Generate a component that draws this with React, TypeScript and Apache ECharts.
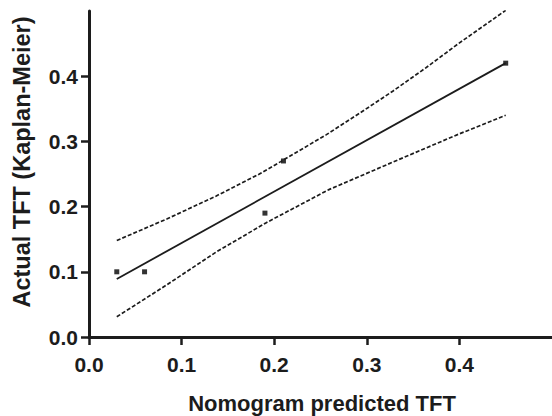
import React, { useEffect, useRef } from "react";
import * as echarts from "echarts";

// Observed points: nomogram-predicted vs. Kaplan-Meier actual TFT
const observed: [number, number][] = [
  [0.03, 0.1],
  [0.06, 0.1],
  [0.19, 0.19],
  [0.21, 0.27],
  [0.45, 0.42],
];

// Fitted regression line
const fitLine: [number, number][] = [
  [0.03, 0.089],
  [0.45, 0.42],
];

// 95% confidence bands
const upperBand: [number, number][] = [
  [0.03, 0.148],
  [0.084, 0.181],
  [0.137, 0.216],
  [0.184, 0.25],
  [0.207, 0.269],
  [0.256, 0.31],
  [0.292, 0.343],
  [0.328, 0.377],
  [0.363, 0.412],
  [0.399, 0.45],
  [0.45, 0.501],
];
const lowerBand: [number, number][] = [
  [0.03, 0.031],
  [0.084, 0.08],
  [0.137, 0.13],
  [0.191, 0.175],
  [0.259, 0.226],
  [0.331, 0.27],
  [0.399, 0.311],
  [0.45, 0.34],
];

const tickValues = [0, 0.1, 0.2, 0.3, 0.4];
const xTitle = "Nomogram predicted TFT";
const yTitle = "Actual TFT (Kaplan-Meier)";

const INK = "#1c1c1c";
const FONT = "'Liberation Sans', Arial, Helvetica, sans-serif";

export default function App() {
  const ref = useRef<HTMLDivElement>(null);

  useEffect(() => {
    if (!ref.current) return;
    const chart = echarts.init(ref.current, undefined, { renderer: "svg" });

    const axisCommon = {
      type: "value" as const,
      min: 0,
      max: 0.5,
      interval: 0.1,
      splitLine: { show: false },
      axisLine: { show: true, lineStyle: { color: INK, width: 3 } },
      axisTick: {
        show: true,
        length: 8,
        customValues: tickValues,
        lineStyle: { color: INK, width: 2.5 },
      },
      axisLabel: {
        customValues: tickValues,
        color: INK,
        fontFamily: FONT,
        fontWeight: "bold" as const,
        fontSize: 21,
        formatter: (v: number) => v.toFixed(1),
      },
    };

    const bandStyle = { color: INK, width: 1.7, type: [4, 2] };

    chart.setOption({
      animation: false,
      backgroundColor: "#ffffff",
      grid: { left: 89, right: -1, top: 11, bottom: 79, containLabel: false },
      xAxis: {
        ...axisCommon,
        axisLabel: { ...axisCommon.axisLabel, margin: 17 },
      },
      yAxis: {
        ...axisCommon,
        axisLabel: { ...axisCommon.axisLabel, margin: 11 },
      },
      series: [
        {
          type: "line",
          data: upperBand,
          showSymbol: false,
          lineStyle: bandStyle,
        },
        {
          type: "line",
          data: lowerBand,
          showSymbol: false,
          lineStyle: bandStyle,
        },
        {
          type: "line",
          data: fitLine,
          showSymbol: false,
          lineStyle: { color: INK, width: 1.8 },
        },
        {
          type: "scatter",
          data: observed,
          symbol: "rect",
          symbolSize: 5,
          itemStyle: { color: "#000000" },
        },
      ],
      graphic: [
        {
          type: "text",
          x: 322,
          y: 403,
          style: {
            text: xTitle,
            font: `bold 22px ${FONT}`,
            fill: INK,
            align: "center",
            verticalAlign: "middle",
          },
        },
        {
          type: "text",
          x: 22,
          y: 162,
          rotation: Math.PI / 2,
          style: {
            text: yTitle,
            font: `bold 23.5px ${FONT}`,
            fill: INK,
            align: "center",
            verticalAlign: "middle",
          },
        },
      ],
    });

    return () => chart.dispose();
  }, []);

  return (
    <div
      ref={ref}
      style={{ position: "fixed", left: 0, top: 0, width: 552, height: 416 }}
    />
  );
}
